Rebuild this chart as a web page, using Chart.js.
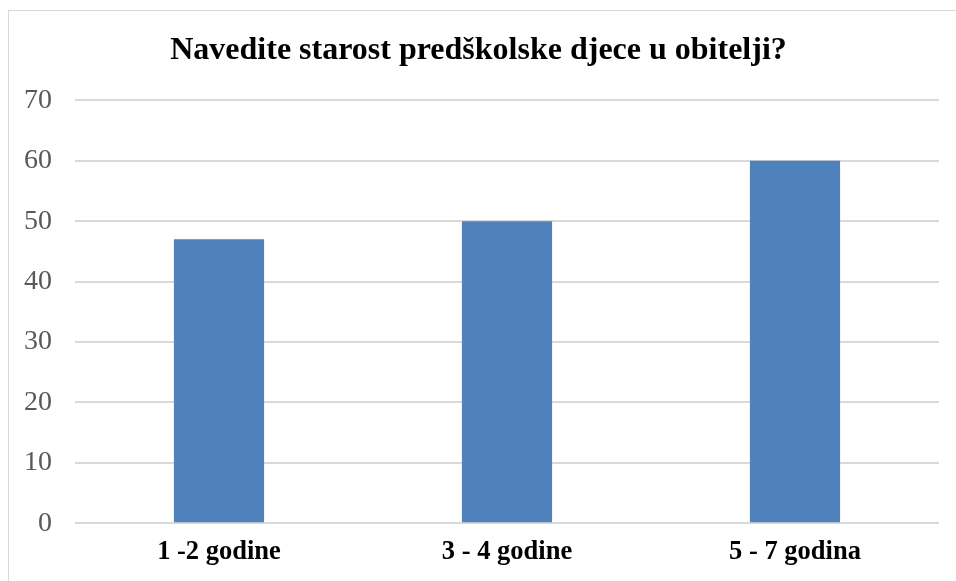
<!DOCTYPE html>
<html>
<head>
<meta charset="utf-8">
<script src="https://cdn.jsdelivr.net/npm/chart.js@4"></script>
<style>
  html, body { margin: 0; padding: 0; background: #fff; }
  #wrap { position: relative; width: 956px; height: 581px; overflow: hidden; }
  #frame { position: absolute; left: 8px; top: 10px; width: 960px; height: 600px;
           border-left: 1px solid #d9d9d9; border-top: 1px solid #d9d9d9; box-sizing: border-box; }
  canvas { position: absolute; left: 0; top: 0; }
</style>
</head>
<body>
<div id="wrap">
  <div id="frame"></div>
  <canvas id="c" width="956" height="581"></canvas>
</div>
<script>
const titleText = "Navedite starost predškolske djece u obitelji?";
const categories = ["1 -2 godine", "3 - 4 godine", "5 - 7 godina"];
const values = [47, 50, 60];
const yTicks = [0, 10, 20, 30, 40, 50, 60, 70];

const serif = "'Liberation Serif', 'Times New Roman', serif";

new Chart(document.getElementById('c'), {
  type: 'bar',
  data: {
    labels: categories,
    datasets: [{
      data: values,
      backgroundColor: '#4F81BD',
      borderWidth: 0,
      categoryPercentage: 1,
      barPercentage: 0.313
    }]
  },
  options: {
    responsive: false,
    animation: false,
    devicePixelRatio: 1,
    layout: { padding: { left: 18, right: 17, top: 0, bottom: 0 } },
    plugins: {
      legend: { display: false },
      tooltip: { enabled: false },
      title: {
        display: true,
        text: titleText,
        color: '#000',
        font: { family: serif, size: 32, weight: 'bold', lineHeight: 1.2 },
        padding: { top: 32, bottom: 30 }
      }
    },
    scales: {
      x: {
        grid: { display: false, drawTicks: false },
        border: { display: false },
        ticks: {
          color: '#000',
          padding: 13,
          font: { family: serif, size: 26.5, weight: 'bold', lineHeight: 1.2 }
        }
      },
      y: {
        min: 0,
        max: 70,
        afterFit: (s) => { s.width = 57; },
        afterBuildTicks: (s) => { s.ticks = yTicks.map(v => ({ value: v })); },
        grid: { color: '#d9d9d9', lineWidth: 2, drawTicks: false },
        border: { display: false },
        ticks: {
          color: '#595959',
          padding: 23,
          font: { family: serif, size: 28, lineHeight: 1.2 }
        }
      }
    }
  }
});
</script>
</body>
</html>
